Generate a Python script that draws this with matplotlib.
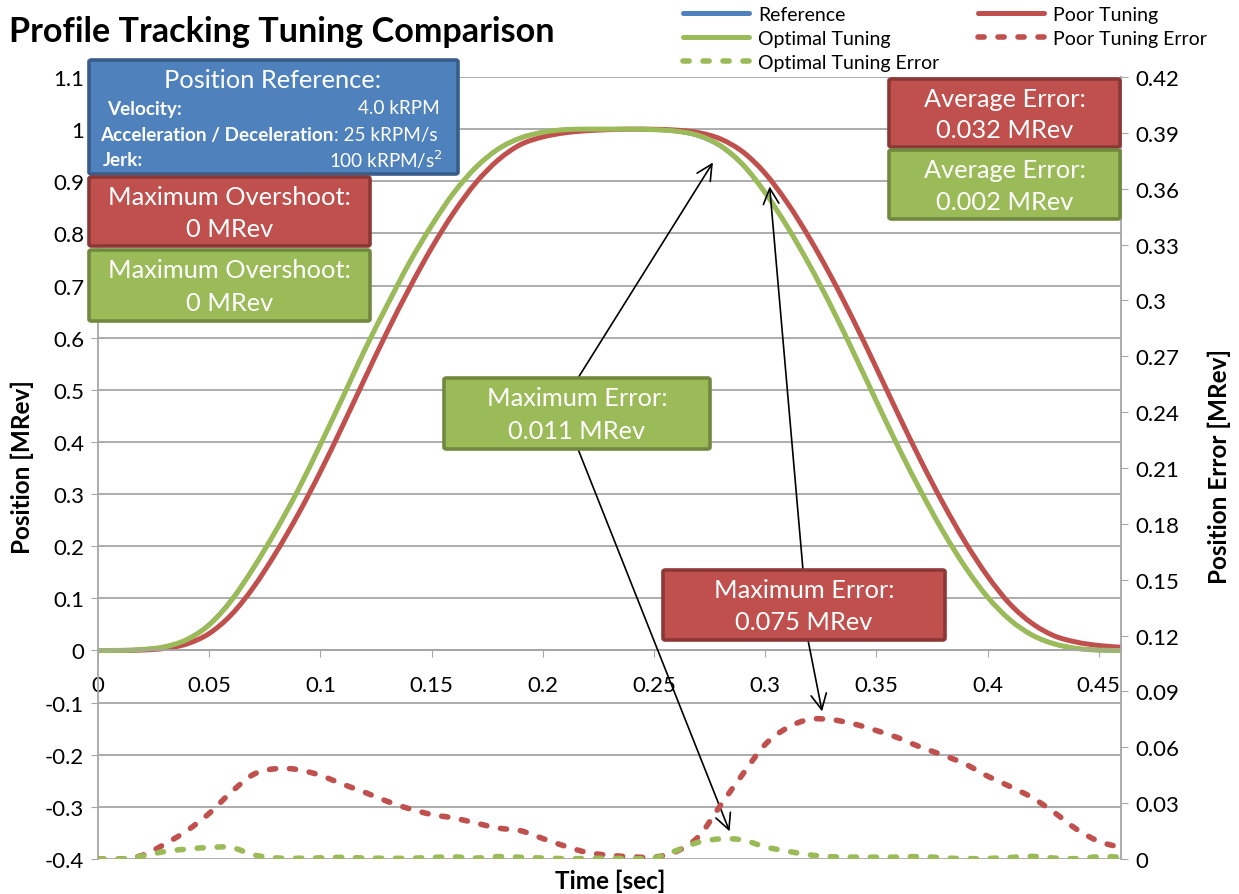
import matplotlib
matplotlib.use("Agg")
import matplotlib.pyplot as plt
from matplotlib.patches import FancyBboxPatch, PathPatch
from matplotlib.path import Path
from matplotlib.lines import Line2D
from matplotlib.ticker import FormatStrFormatter, MultipleLocator

plt.rcParams['font.family'] = ['Lato', 'DejaVu Sans']
plt.rcParams['axes.unicode_minus'] = False

# ---------------- data ----------------
time_s = [0.00, 0.01, 0.02, 0.03, 0.04, 0.05, 0.06, 0.07, 0.08, 0.09,
          0.10, 0.11, 0.12, 0.13, 0.14, 0.15, 0.16, 0.17, 0.18, 0.19,
          0.20, 0.21, 0.22, 0.23, 0.24, 0.25, 0.26, 0.27, 0.28, 0.29,
          0.30, 0.31, 0.32, 0.33, 0.34, 0.35, 0.36, 0.37, 0.38, 0.39,
          0.40, 0.41, 0.42, 0.43, 0.44, 0.45, 0.46]

reference = [0, 0, 0.002, 0.007, 0.021, 0.050, 0.097, 0.159, 0.230, 0.308,
             0.395, 0.485, 0.577, 0.662, 0.7435, 0.815, 0.878, 0.927, 0.962, 0.983,
             0.994, 0.999, 1.0, 1.0, 1.0, 0.999, 0.996, 0.987, 0.967, 0.931,
             0.878, 0.8126, 0.7388, 0.6572, 0.569, 0.4782, 0.389, 0.3054, 0.228, 0.1598,
             0.1024, 0.059, 0.0296, 0.0126, 0.004, 0.0006, 0]

poor_tuning = [0, 0, 0.0008, 0.004, 0.0126, 0.0326, 0.0688, 0.1218, 0.1874, 0.2612,
               0.3428, 0.431, 0.5218, 0.611, 0.6946, 0.772, 0.8402, 0.8976, 0.941, 0.9704,
               0.985, 0.993, 0.997, 0.999, 1.0, 0.9997, 0.9981, 0.9933, 0.981, 0.9562,
               0.9151, 0.8584, 0.7905, 0.7143, 0.6307, 0.5418, 0.4515, 0.3639, 0.2822, 0.2075,
               0.1426, 0.0894, 0.052, 0.028, 0.016, 0.0095, 0.0062]

optimal_tuning = [0, 0, 0.002, 0.007, 0.021, 0.049, 0.096, 0.159, 0.230, 0.308,
                  0.395, 0.485, 0.577, 0.662, 0.7435, 0.815, 0.878, 0.927, 0.962, 0.983,
                  0.994, 0.999, 1.0, 1.0, 1.0, 0.999, 0.996, 0.988, 0.968, 0.932,
                  0.878, 0.8126, 0.7388, 0.6572, 0.569, 0.4782, 0.389, 0.3054, 0.228, 0.1598,
                  0.1024, 0.059, 0.0296, 0.0126, 0.004, 0.0006, 0]

poor_error = [0, 0, 0.002, 0.008, 0.0152, 0.0245, 0.036, 0.0455, 0.0485, 0.048,
              0.0449, 0.0402, 0.0358, 0.031, 0.027, 0.0239, 0.022, 0.0193, 0.0166, 0.0152,
              0.011, 0.0069, 0.0035, 0.002, 0.0012, 0.001, 0.004, 0.012, 0.029, 0.0457,
              0.0615, 0.0705, 0.075, 0.0748, 0.0725, 0.069, 0.065, 0.060, 0.0558, 0.051,
              0.0445, 0.039, 0.033, 0.025, 0.016, 0.0095, 0.0062]

optimal_error = [0, 0, 0.0016, 0.004, 0.0053, 0.0062, 0.0062, 0.0022, 0.0006, 0.0004,
                 0.0006, 0.0009, 0.0005, 0.0004, 0.0004, 0.0008, 0.0011, 0.0005, 0.0013, 0.0009,
                 0.0005, 0.0002, 0.0003, 0.0004, 0.0002, 0.0005, 0.0045, 0.009, 0.0108, 0.0102,
                 0.0065, 0.0042, 0.0022, 0.0012, 0.001, 0.001, 0.001, 0.0013, 0.0006, 0.0002,
                 0.0003, 0.0008, 0.0014, 0.0005, 0.0002, 0.0012, 0.001]

x_ticks = [0, 0.05, 0.1, 0.15, 0.2, 0.25, 0.3, 0.35, 0.4, 0.45]

C_BLUE, C_RED, C_GREEN = '#4F81BD', '#C0504D', '#9BBB59'
E_BLUE, E_RED, E_GREEN = '#385D8A', '#8C3836', '#71893F'
GRID = '#A6A6A6'

W, H = 1239, 895
fig = plt.figure(figsize=(W / 100, H / 100), dpi=100)
ax = fig.add_axes([98 / W, 1 - 860 / H, (1121 - 98) / W, (860 - 78) / H])
ax2 = ax.twinx()


def smooth_path(xs, ys):
    """Excel-style smoothed line through the data points (cubic Bezier segments)."""
    pts = list(zip(xs, ys))
    n = len(pts)
    verts = [pts[0]]
    codes = [Path.MOVETO]
    for i in range(n - 1):
        p0 = pts[i - 1] if i > 0 else pts[i]
        p1 = pts[i]
        p2 = pts[i + 1]
        p3 = pts[i + 2] if i + 2 < n else pts[i + 1]
        c1 = (p1[0] + (p2[0] - p0[0]) / 6, p1[1] + (p2[1] - p0[1]) / 6)
        c2 = (p2[0] - (p3[0] - p1[0]) / 6, p2[1] - (p3[1] - p1[1]) / 6)
        verts += [c1, c2, p2]
        codes += [Path.CURVE4] * 3
    return Path(verts, codes)


def draw_series(axis, xs, ys, color, lw, ls='-'):
    p = PathPatch(smooth_path(xs, ys), fill=False, ec=color, lw=lw, ls=ls,
                  transform=axis.transData)
    p.set_capstyle('round')
    p.set_joinstyle('round')
    axis.add_patch(p)


dash = (0, (1.1, 2.5))
draw_series(ax, time_s, reference, C_BLUE, 3.0)
draw_series(ax, time_s, poor_tuning, C_RED, 3.6)
draw_series(ax, time_s, optimal_tuning, C_GREEN, 3.6)
draw_series(ax2, time_s, poor_error, C_RED, 4.0, dash)
draw_series(ax2, time_s, optimal_error, C_GREEN, 4.0, dash)

ax.set_xlim(0, 0.46)
ax.set_ylim(-0.4, 1.1)
ax2.set_ylim(0, 0.42)
ax.yaxis.set_major_locator(MultipleLocator(0.1))
ax.yaxis.set_major_formatter(FormatStrFormatter('%g'))
ax2.yaxis.set_major_locator(MultipleLocator(0.03))
ax2.yaxis.set_major_formatter(FormatStrFormatter('%g'))
ax.set_xticks(x_ticks)
ax.xaxis.set_major_formatter(FormatStrFormatter('%g'))
ax.yaxis.grid(True, color=GRID, lw=1.3)
ax.set_axisbelow(True)

for s in ['top', 'right']:
    ax.spines[s].set_visible(False)
ax.spines['bottom'].set_position(('data', 0))
for s in ['bottom', 'left']:
    ax.spines[s].set_color(GRID)
    ax.spines[s].set_linewidth(1.3)
for s in ['top', 'left', 'bottom']:
    ax2.spines[s].set_visible(False)
ax2.spines['right'].set_color(GRID)
ax2.spines['right'].set_linewidth(1.3)

TICK_FS = 16
ax.tick_params(axis='y', direction='out', length=5, color=GRID, labelsize=TICK_FS, pad=5)
ax.tick_params(axis='x', direction='out', length=5, color=GRID, labelsize=TICK_FS, pad=13)
ax2.tick_params(axis='y', direction='out', length=5, color=GRID, labelsize=TICK_FS, pad=5)


def fx(x):
    return x / W


def fy(y):
    return 1 - y / H


# title and axis labels
fig.text(fx(9), fy(32), 'Profile Tracking Tuning Comparison', fontsize=24.6,
         fontweight='bold', ha='left', va='center')
fig.text(fx(22), fy(467), 'Position [MRev]', rotation=90, fontsize=17.5,
         fontweight='bold', ha='center', va='center')
fig.text(fx(1219), fy(467), 'Position Error [MRev]', rotation=90, fontsize=17.5,
         fontweight='bold', ha='center', va='center')
fig.text(fx(610), fy(881), 'Time [sec]', fontsize=17.5, fontweight='bold',
         ha='center', va='center')

# legend (proxy handles styled like the series)
handles = [
    Line2D([], [], color=C_BLUE, lw=3.6, solid_capstyle='round'),
    Line2D([], [], color=C_GREEN, lw=3.6, solid_capstyle='round'),
    Line2D([], [], color=C_GREEN, lw=4.0, ls=dash, dash_capstyle='round'),
    Line2D([], [], color=C_RED, lw=3.6, solid_capstyle='round'),
    Line2D([], [], color=C_RED, lw=4.0, ls=dash, dash_capstyle='round'),
]
labels = ['Reference', 'Optimal Tuning', 'Optimal Tuning Error', 'Poor Tuning', 'Poor Tuning Error']
fig.legend(handles, labels, loc='upper left',
           bbox_to_anchor=(fx(683), fy(7)), ncol=2, frameon=False, fontsize=14,
           handlelength=3.4, handletextpad=0.45, columnspacing=2.0, labelspacing=0.36,
           borderpad=0, borderaxespad=0)


def box(x0, y0, x1, y1, face, edge):
    p = FancyBboxPatch((fx(x0), fy(y1)), (x1 - x0) / W, (y1 - y0) / H,
                       boxstyle='round,pad=0,rounding_size=0.002',
                       transform=fig.transFigure, fc=face, ec=edge, lw=2.6, zorder=5)
    fig.add_artist(p)


BOX_FS = 18.3


def two_line_box(x0, y0, x1, y1, face, edge, l1_, l2_, fs=BOX_FS):
    box(x0, y0, x1, y1, face, edge)
    cx = (x0 + x1) / 2
    h = y1 - y0
    fig.text(fx(cx), fy(y0 + 0.28 * h), l1_, color='white', fontsize=fs,
             ha='center', va='center', zorder=6)
    fig.text(fx(cx), fy(y0 + 0.74 * h), l2_, color='white', fontsize=fs,
             ha='center', va='center', zorder=6)


# blue Position Reference box
ROW_FS = 13.6
box(89, 61, 458, 175, C_BLUE, E_BLUE)
fig.text(fx(273), fy(81), 'Position Reference:', color='white', fontsize=BOX_FS,
         ha='center', va='center', zorder=6)
fig.text(fx(107), fy(109), 'Velocity:', color='white', fontsize=ROW_FS, fontweight='bold',
         ha='left', va='center', zorder=6)
fig.text(fx(440), fy(109), '4.0 kRPM', color='white', fontsize=ROW_FS,
         ha='right', va='center', zorder=6)
t_acc = fig.text(fx(100), fy(135), 'Acceleration / Deceleration', color='white',
                 fontsize=ROW_FS, fontweight='bold', ha='left', va='center', zorder=6)
renderer = fig.canvas.get_renderer()
bb = t_acc.get_window_extent(renderer=renderer)
fig.text(bb.x1 / W, fy(135), ': 25 kRPM/s', color='white', fontsize=ROW_FS,
         ha='left', va='center', zorder=6)
fig.text(fx(103), fy(161), 'Jerk:', color='white', fontsize=ROW_FS, fontweight='bold',
         ha='left', va='center', zorder=6)
fig.text(fx(443), fy(160), r'100 kRPM/s$^{2}$', color='white', fontsize=ROW_FS,
         ha='right', va='center', zorder=6)

two_line_box(89, 178, 370, 247, C_RED, E_RED, 'Maximum Overshoot:', '0 MRev')
two_line_box(89, 251, 370, 322, C_GREEN, E_GREEN, 'Maximum Overshoot:', '0 MRev')
two_line_box(889, 80, 1120, 148, C_RED, E_RED, 'Average Error:', '0.032 MRev')
two_line_box(889, 151, 1120, 220, C_GREEN, E_GREEN, 'Average Error:', '0.002 MRev')
two_line_box(444, 379, 710, 450, C_GREEN, E_GREEN, 'Maximum Error:', '0.011 MRev')
two_line_box(663, 571, 945, 641, C_RED, E_RED, 'Maximum Error:', '0.075 MRev')

# arrows (tips in data coordinates, tails at box edges in figure coordinates)
arrow_kw = dict(arrowstyle='->', color='black', lw=1.2, mutation_scale=28,
                shrinkA=0, shrinkB=0)
ax.annotate('', xy=(0.2765, 0.936), xycoords='data',
            xytext=(fx(578), fy(379)), textcoords='figure fraction', arrowprops=arrow_kw)
ax.annotate('', xy=(0.284, -0.347), xycoords='data',
            xytext=(fx(578), fy(450)), textcoords='figure fraction', arrowprops=arrow_kw)
ax.annotate('', xy=(0.302, 0.89), xycoords='data',
            xytext=(fx(803), fy(571)), textcoords='figure fraction', arrowprops=arrow_kw)
ax.annotate('', xy=(0.3256, -0.117), xycoords='data',
            xytext=(fx(808), fy(641)), textcoords='figure fraction', arrowprops=arrow_kw)

fig.savefig('out.png', dpi=100)
